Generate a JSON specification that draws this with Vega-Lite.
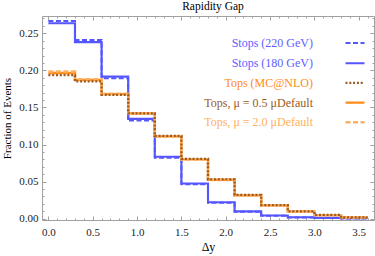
{
  "$schema": "https://vega.github.io/schema/vega-lite/v6.json",
  "width": 332,
  "height": 204,
  "autosize": {"type": "none"},
  "padding": {"left": 42, "top": 16, "right": 1, "bottom": 36},
  "background": "white",
  "title": {"text": "Rapidity Gap", "font": "Liberation Serif", "fontSize": 11.5, "fontWeight": "normal", "color": "#000", "offset": 3, "dx": 5},
  "config": {
    "view": {"stroke": "#a0a0a0", "strokeWidth": 1},
    "axis": {"domain": false, "grid": false, "tickColor": "#a0a0a0", "tickWidth": 1, "labelFont": "Liberation Serif", "labelFontSize": 11, "labelColor": "#222", "titleFont": "Liberation Serif", "titleFontSize": 11, "titleFontWeight": "normal", "titleColor": "#000"}
  },
  "data": {"values": [
    {"s": "Stops (180 GeV)", "lo": 0.0, "hi": 0.3, "v": 0.2635},
    {"s": "Stops (180 GeV)", "lo": 0.3, "hi": 0.6, "v": 0.2380},
    {"s": "Stops (180 GeV)", "lo": 0.6, "hi": 0.9, "v": 0.1915},
    {"s": "Stops (180 GeV)", "lo": 0.9, "hi": 1.2, "v": 0.1345},
    {"s": "Stops (180 GeV)", "lo": 1.2, "hi": 1.5, "v": 0.0835},
    {"s": "Stops (180 GeV)", "lo": 1.5, "hi": 1.8, "v": 0.0475},
    {"s": "Stops (180 GeV)", "lo": 1.8, "hi": 2.1, "v": 0.0222},
    {"s": "Stops (180 GeV)", "lo": 2.1, "hi": 2.4, "v": 0.0098},
    {"s": "Stops (180 GeV)", "lo": 2.4, "hi": 2.7, "v": 0.0042},
    {"s": "Stops (180 GeV)", "lo": 2.7, "hi": 3.0, "v": 0.0019},
    {"s": "Stops (180 GeV)", "lo": 3.0, "hi": 3.3, "v": 0.0010},
    {"s": "Stops (180 GeV)", "lo": 3.3, "hi": 3.6, "v": 0.0005},
    {"s": "Stops (220 GeV)", "lo": 0.0, "hi": 0.3, "v": 0.2665},
    {"s": "Stops (220 GeV)", "lo": 0.3, "hi": 0.6, "v": 0.2410},
    {"s": "Stops (220 GeV)", "lo": 0.6, "hi": 0.9, "v": 0.1895},
    {"s": "Stops (220 GeV)", "lo": 0.9, "hi": 1.2, "v": 0.1325},
    {"s": "Stops (220 GeV)", "lo": 1.2, "hi": 1.5, "v": 0.0820},
    {"s": "Stops (220 GeV)", "lo": 1.5, "hi": 1.8, "v": 0.0465},
    {"s": "Stops (220 GeV)", "lo": 1.8, "hi": 2.1, "v": 0.0213},
    {"s": "Stops (220 GeV)", "lo": 2.1, "hi": 2.4, "v": 0.0092},
    {"s": "Stops (220 GeV)", "lo": 2.4, "hi": 2.7, "v": 0.0038},
    {"s": "Stops (220 GeV)", "lo": 2.7, "hi": 3.0, "v": 0.0016},
    {"s": "Stops (220 GeV)", "lo": 3.0, "hi": 3.3, "v": 0.0008},
    {"s": "Stops (220 GeV)", "lo": 3.3, "hi": 3.6, "v": 0.0003},
    {"s": "Tops, μ = 0.5 μDefault", "lo": 0.0, "hi": 0.3, "v": 0.1965},
    {"s": "Tops, μ = 0.5 μDefault", "lo": 0.3, "hi": 0.6, "v": 0.1870},
    {"s": "Tops, μ = 0.5 μDefault", "lo": 0.6, "hi": 0.9, "v": 0.1680},
    {"s": "Tops, μ = 0.5 μDefault", "lo": 0.9, "hi": 1.2, "v": 0.1420},
    {"s": "Tops, μ = 0.5 μDefault", "lo": 1.2, "hi": 1.5, "v": 0.1110},
    {"s": "Tops, μ = 0.5 μDefault", "lo": 1.5, "hi": 1.8, "v": 0.0800},
    {"s": "Tops, μ = 0.5 μDefault", "lo": 1.8, "hi": 2.1, "v": 0.0525},
    {"s": "Tops, μ = 0.5 μDefault", "lo": 2.1, "hi": 2.4, "v": 0.0315},
    {"s": "Tops, μ = 0.5 μDefault", "lo": 2.4, "hi": 2.7, "v": 0.0180},
    {"s": "Tops, μ = 0.5 μDefault", "lo": 2.7, "hi": 3.0, "v": 0.0098},
    {"s": "Tops, μ = 0.5 μDefault", "lo": 3.0, "hi": 3.3, "v": 0.0048},
    {"s": "Tops, μ = 0.5 μDefault", "lo": 3.3, "hi": 3.6, "v": 0.0018},
    {"s": "Tops, μ = 2.0 μDefault", "lo": 0.0, "hi": 0.3, "v": 0.1985},
    {"s": "Tops, μ = 2.0 μDefault", "lo": 0.3, "hi": 0.6, "v": 0.1880},
    {"s": "Tops, μ = 2.0 μDefault", "lo": 0.6, "hi": 0.9, "v": 0.1685},
    {"s": "Tops, μ = 2.0 μDefault", "lo": 0.9, "hi": 1.2, "v": 0.1415},
    {"s": "Tops, μ = 2.0 μDefault", "lo": 1.2, "hi": 1.5, "v": 0.1105},
    {"s": "Tops, μ = 2.0 μDefault", "lo": 1.5, "hi": 1.8, "v": 0.0798},
    {"s": "Tops, μ = 2.0 μDefault", "lo": 1.8, "hi": 2.1, "v": 0.0522},
    {"s": "Tops, μ = 2.0 μDefault", "lo": 2.1, "hi": 2.4, "v": 0.0312},
    {"s": "Tops, μ = 2.0 μDefault", "lo": 2.4, "hi": 2.7, "v": 0.0178},
    {"s": "Tops, μ = 2.0 μDefault", "lo": 2.7, "hi": 3.0, "v": 0.0096},
    {"s": "Tops, μ = 2.0 μDefault", "lo": 3.0, "hi": 3.3, "v": 0.0047},
    {"s": "Tops, μ = 2.0 μDefault", "lo": 3.3, "hi": 3.6, "v": 0.0017},
    {"s": "Tops (MC@NLO)", "lo": 0.0, "hi": 0.3, "v": 0.1935},
    {"s": "Tops (MC@NLO)", "lo": 0.3, "hi": 0.6, "v": 0.1850},
    {"s": "Tops (MC@NLO)", "lo": 0.6, "hi": 0.9, "v": 0.1670},
    {"s": "Tops (MC@NLO)", "lo": 0.9, "hi": 1.2, "v": 0.1420},
    {"s": "Tops (MC@NLO)", "lo": 1.2, "hi": 1.5, "v": 0.1115},
    {"s": "Tops (MC@NLO)", "lo": 1.5, "hi": 1.8, "v": 0.0805},
    {"s": "Tops (MC@NLO)", "lo": 1.8, "hi": 2.1, "v": 0.0530},
    {"s": "Tops (MC@NLO)", "lo": 2.1, "hi": 2.4, "v": 0.0320},
    {"s": "Tops (MC@NLO)", "lo": 2.4, "hi": 2.7, "v": 0.0183},
    {"s": "Tops (MC@NLO)", "lo": 2.7, "hi": 3.0, "v": 0.0100},
    {"s": "Tops (MC@NLO)", "lo": 3.0, "hi": 3.3, "v": 0.0050},
    {"s": "Tops (MC@NLO)", "lo": 3.3, "hi": 3.6, "v": 0.0019}
  ]},
  "transform": [{"fold": ["lo", "hi"], "as": ["key", "x"]}],
  "resolve": {"axis": {"x": "independent", "y": "independent"}},
  "layer": [
    {
      "mark": {"type": "line", "strokeJoin": "miter", "strokeCap": "butt"},
      "encoding": {
        "x": {"field": "x", "type": "quantitative", "scale": {"domain": [-0.072, 3.672], "nice": false, "zero": false},
          "axis": {"orient": "bottom", "values": [0, 0.5, 1, 1.5, 2, 2.5, 3, 3.5], "format": ".1f", "tickSize": -4, "labelPadding": 10, "title": "Δy", "titleFontSize": 12, "titlePadding": 4}},
        "y": {"field": "v", "type": "quantitative", "scale": {"domain": [-0.0018, 0.2733], "nice": false, "zero": false},
          "axis": {"orient": "left", "values": [0, 0.05, 0.1, 0.15, 0.2, 0.25], "format": ".2f", "tickSize": -4, "labelPadding": 8, "title": "Fraction of Events", "titlePadding": 6}},
        "order": [{"field": "x", "type": "quantitative"}, {"field": "key", "type": "nominal"}],
        "color": {"field": "s", "type": "nominal",
          "scale": {"domain": ["Stops (220 GeV)", "Stops (180 GeV)", "Tops (MC@NLO)", "Tops, μ = 0.5 μDefault", "Tops, μ = 2.0 μDefault"],
                    "range": ["#5656ff", "#5656ff", "#9a5a22", "#ff8c1a", "#ffb060"]},
          "legend": {
            "orient": "none", "legendX": 158, "legendY": 16.5, "title": null,
            "symbolType": "stroke", "symbolSize": 361, "symbolStrokeWidth": 2,
            "labelFont": "Liberation Serif", "labelFontSize": 12, "labelAlign": "right", "labelLimit": 300, "rowPadding": 2.7,
            "encode": {
              "labels": {"update": {"x": {"value": 113}, "fill": {"signal": "datum.value === 'Tops (MC@NLO)' ? '#ff8c1a' : datum.value === 'Tops, μ = 0.5 μDefault' ? '#9a5a22' : datum.value === 'Tops, μ = 2.0 μDefault' ? '#ffb060' : '#6060ff'"}}},
              "symbols": {"update": {"x": {"value": 155}}}
            }
          }},
        "strokeDash": {"field": "s", "type": "nominal",
          "scale": {"domain": ["Stops (220 GeV)", "Stops (180 GeV)", "Tops (MC@NLO)", "Tops, μ = 0.5 μDefault", "Tops, μ = 2.0 μDefault"],
                    "range": [[5, 2.5], [1, 0], [2, 1.8], [1, 0], [5, 2.5]]}},
        "strokeWidth": {"field": "s", "type": "nominal", "legend": null,
          "scale": {"domain": ["Stops (220 GeV)", "Stops (180 GeV)", "Tops (MC@NLO)", "Tops, μ = 0.5 μDefault", "Tops, μ = 2.0 μDefault"],
                    "range": [2, 2.5, 1.8, 2.6, 2]}}
      }
    },
    {
      "mark": {"type": "point", "opacity": 0},
      "encoding": {
        "x": {"field": "x", "type": "quantitative", "axis": {"orient": "top", "values": [0, 0.5, 1, 1.5, 2, 2.5, 3, 3.5], "tickSize": -4, "labels": false, "title": null}},
        "y": {"field": "v", "type": "quantitative", "axis": {"orient": "right", "values": [0, 0.05, 0.1, 0.15, 0.2, 0.25], "tickSize": -4, "labels": false, "title": null}}
      }
    },
    {
      "mark": {"type": "point", "opacity": 0},
      "encoding": {
        "x": {"field": "x", "type": "quantitative", "axis": {"orient": "bottom", "values": [0.1, 0.2, 0.3, 0.4, 0.6, 0.7, 0.8, 0.9, 1.1, 1.2, 1.3, 1.4, 1.6, 1.7, 1.8, 1.9, 2.1, 2.2, 2.3, 2.4, 2.6, 2.7, 2.8, 2.9, 3.1, 3.2, 3.3, 3.4, 3.6], "tickSize": -2, "labels": false, "title": null}},
        "y": {"field": "v", "type": "quantitative", "axis": {"orient": "left", "values": [0.01, 0.02, 0.03, 0.04, 0.06, 0.07, 0.08, 0.09, 0.11, 0.12, 0.13, 0.14, 0.16, 0.17, 0.18, 0.19, 0.21, 0.22, 0.23, 0.24, 0.26, 0.27], "tickSize": -2, "labels": false, "title": null}}
      }
    },
    {
      "mark": {"type": "point", "opacity": 0},
      "encoding": {
        "x": {"field": "x", "type": "quantitative", "axis": {"orient": "top", "values": [0.1, 0.2, 0.3, 0.4, 0.6, 0.7, 0.8, 0.9, 1.1, 1.2, 1.3, 1.4, 1.6, 1.7, 1.8, 1.9, 2.1, 2.2, 2.3, 2.4, 2.6, 2.7, 2.8, 2.9, 3.1, 3.2, 3.3, 3.4, 3.6], "tickSize": -2, "labels": false, "title": null}},
        "y": {"field": "v", "type": "quantitative", "axis": {"orient": "right", "values": [0.01, 0.02, 0.03, 0.04, 0.06, 0.07, 0.08, 0.09, 0.11, 0.12, 0.13, 0.14, 0.16, 0.17, 0.18, 0.19, 0.21, 0.22, 0.23, 0.24, 0.26, 0.27], "tickSize": -2, "labels": false, "title": null}}
      }
    }
  ]
}
